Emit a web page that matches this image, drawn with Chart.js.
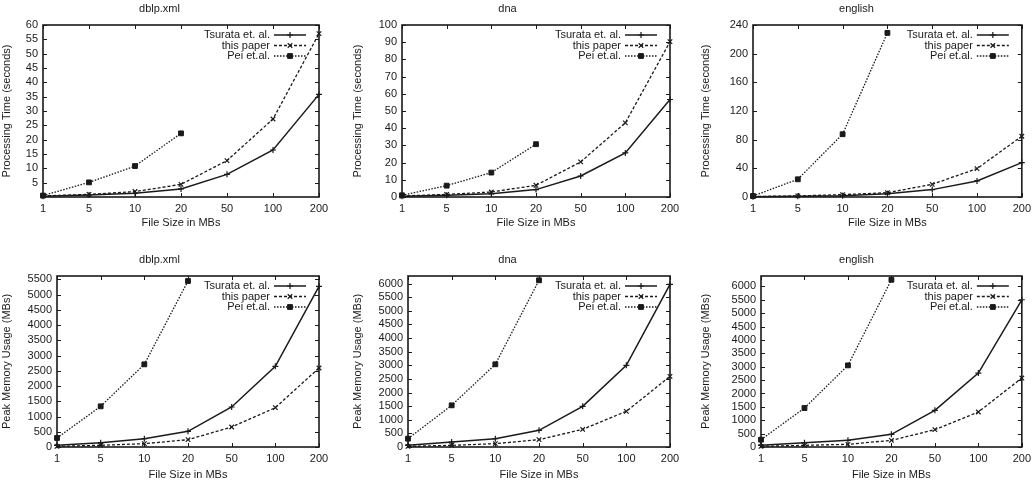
<!DOCTYPE html>
<html>
<head>
<meta charset="utf-8">
<script src="https://cdn.jsdelivr.net/npm/chart.js@4.4.0/dist/chart.umd.min.js"></script>
<style>
  body { margin: 0; background: #fff; }
  #wrap { position: relative; width: 1036px; height: 485px; background: #fff; }
  canvas { position: absolute; }
</style>
</head>
<body>
<div id="wrap">
  <canvas id="c1" width="345" height="242" style="left:0;top:0"></canvas>
  <canvas id="c2" width="345" height="242" style="left:345px;top:0"></canvas>
  <canvas id="c3" width="346" height="242" style="left:690px;top:0"></canvas>
  <canvas id="c4" width="345" height="234" style="left:0;top:251px"></canvas>
  <canvas id="c5" width="345" height="234" style="left:345px;top:251px"></canvas>
  <canvas id="c6" width="346" height="234" style="left:690px;top:251px"></canvas>
</div>
<script>
// x categories
const fileSizes = ['1', '5', '10', '20', '50', '100', '200'];
const seriesNames = ['Tsurata et. al.', 'this paper', 'Pei et.al.'];

// processing time (seconds)
const dblpTimeTsurata = [0.3, 0.7, 1.3, 2.8, 7.9, 16.4, 35.8];
const dblpTimeOurs = [0.4, 0.9, 1.9, 4.4, 12.7, 27.2, 57];
const dblpTimePei = [0.5, 5.1, 10.8, 22.2];
const dnaTimeTsurata = [0.4, 1, 1.9, 4.3, 12.2, 25.6, 56.7];
const dnaTimeOurs = [0.6, 1.5, 2.9, 6.8, 20.4, 43.1, 90.3];
const dnaTimePei = [1, 6.6, 14.2, 30.7];
const englishTimeTsurata = [0.5, 1, 1.9, 4.7, 10.3, 22.4, 48];
const englishTimeOurs = [0.7, 1.5, 3.3, 6, 17.7, 39.6, 84.8];
const englishTimePei = [1.4, 24.7, 87.6, 229];

// peak memory (MBs)
const dblpMemTsurata = [55, 142, 273, 514, 1312, 2646, 5270];
const dblpMemOurs = [22, 55, 109, 240, 656, 1290, 2592];
const dblpMemPei = [295, 1334, 2712, 5446];
const dnaMemTsurata = [61, 184, 306, 612, 1494, 3000, 5975];
const dnaMemOurs = [25, 61, 122, 269, 649, 1310, 2596];
const dnaMemPei = [306, 1530, 3037, 6122];
const englishMemTsurata = [62, 162, 249, 473, 1369, 2764, 5502];
const englishMemOurs = [25, 62, 100, 249, 647, 1307, 2577];
const englishMemPei = [274, 1456, 3050, 6249];

// y axis ranges
const timeMax = [60, 100, 240];
const timeStep = [5, 10, 40];
const memMax = [5610, 6280, 6390];
const memStep = 500;

const INK = '#1a1a1a';
const FONT = 'Liberation Sans, Arial, Helvetica, sans-serif';

// gnuplot-like frame with inward ticks on all four sides
const framePlugin = {
    id: 'frame',
    afterDatasetsDraw(chart) {
        const { ctx, chartArea: a, scales: { x, y } } = chart;
        ctx.save();
        ctx.strokeStyle = INK;
        ctx.lineWidth = 1;
        ctx.beginPath();
        x.ticks.forEach((t, i) => {
            const px = Math.round(x.getPixelForTick(i)) + 0.5;
            ctx.moveTo(px, a.bottom); ctx.lineTo(px, a.bottom - 4);
            ctx.moveTo(px, a.top); ctx.lineTo(px, a.top + 4);
        });
        y.ticks.forEach(t => {
            const py = Math.round(y.getPixelForValue(t.value)) + 0.5;
            ctx.moveTo(a.left, py); ctx.lineTo(a.left + 4, py);
            ctx.moveTo(a.right, py); ctx.lineTo(a.right - 4, py);
        });
        ctx.stroke();
        ctx.lineWidth = 1.6;
        ctx.strokeRect(a.left, a.top, a.right - a.left, a.bottom - a.top);
        ctx.restore();
    }
};

// key in the top right corner, text right aligned, sample to its right
const keyPlugin = {
    id: 'key',
    afterDraw(chart) {
        const { ctx, chartArea: a } = chart;
        ctx.save();
        ctx.font = '11px ' + FONT;
        ctx.textAlign = 'right';
        ctx.textBaseline = 'middle';
        chart.data.datasets.forEach((ds, i) => {
            const yy = a.top + 10 + i * 10.5;
            const x0 = a.right - 45, x1 = a.right - 13;
            ctx.fillStyle = INK;
            ctx.fillText(ds.label, x0 - 4, yy);
            ctx.strokeStyle = INK;
            ctx.lineWidth = ds.borderWidth;
            ctx.setLineDash(ds.borderDash || []);
            ctx.beginPath();
            ctx.moveTo(x0, yy); ctx.lineTo(x1, yy);
            ctx.stroke();
            ctx.setLineDash([]);
            ctx.lineWidth = ds.pointBorderWidth;
            ctx.fillStyle = INK;
            Chart.helpers.drawPoint(ctx, {
                pointStyle: ds.pointStyle, radius: ds.pointRadius, rotation: 0, borderWidth: ds.pointBorderWidth
            }, (x0 + x1) / 2, yy);
        });
        ctx.restore();
    }
};

function makeDatasets(tsurata, ours, pei) {
    const common = { borderColor: INK, backgroundColor: INK, pointBorderColor: INK, pointBackgroundColor: INK, tension: 0, clip: false, spanGaps: false };
    return [
        Object.assign({}, common, { label: seriesNames[0], data: tsurata, borderWidth: 1.5, pointStyle: 'cross', pointRadius: 3, pointBorderWidth: 1.2 }),
        Object.assign({}, common, { label: seriesNames[1], data: ours, borderWidth: 1.3, borderDash: [3, 2], pointStyle: 'crossRot', pointRadius: 3.2, pointBorderWidth: 1.2 }),
        Object.assign({}, common, { label: seriesNames[2], data: pei, borderWidth: 1.3, borderDash: [1.5, 1.5], pointStyle: 'rect', pointRadius: 3.4, pointBorderWidth: 1 })
    ];
}

function makePanel(id, title, yTitle, datasets, yMax, yStep, lay) {
    new Chart(document.getElementById(id), {
        type: 'line',
        data: { labels: fileSizes, datasets: datasets },
        plugins: [framePlugin, keyPlugin],
        options: {
            responsive: false,
            animation: false,
            events: [],
            layout: { padding: { left: 0, right: lay.padRight, top: 0, bottom: 0 } },
            plugins: {
                legend: { display: false },
                tooltip: { enabled: false },
                title: { display: true, text: title, color: INK, font: { family: FONT, size: 11, weight: 'normal' }, padding: { top: lay.titleTop, bottom: 25 - 13.2 - lay.titleTop } }
            },
            scales: {
                x: {
                    type: 'category',
                    offset: false,
                    grid: { display: false, drawTicks: false },
                    border: { display: false },
                    ticks: { color: INK, font: { family: FONT, size: 11 }, padding: 5, maxRotation: 0, autoSkip: false },
                    title: { display: true, text: 'File Size in MBs', color: INK, font: { family: FONT, size: 11 }, padding: { top: 0, bottom: lay.xTitleBottom } },
                    afterFit(s) { s.height = lay.xHeight; }
                },
                y: {
                    min: 0,
                    max: yMax,
                    grid: { display: false, drawTicks: false },
                    border: { display: false },
                    ticks: { stepSize: yStep, color: INK, font: { family: FONT, size: 11 }, padding: 5, autoSkip: false, callback: v => String(v) },
                    title: { display: true, text: yTitle, color: INK, font: { family: FONT, size: 11 }, padding: { top: lay.yTitleLeft, bottom: 0 } },
                    afterBuildTicks(s) {
                        const ticks = [];
                        for (let v = lay.hideZero ? yStep : 0; v <= yMax + 1e-9; v += yStep) ticks.push({ value: v });
                        s.ticks = ticks;
                    },
                    afterFit(s) { s.width = lay.yWidth; }
                }
            }
        }
    });
}

const TIME_LABEL = 'Processing Time (seconds)';
const MEM_LABEL = 'Peak Memory Usage (MBs)';

makePanel('c1', 'dblp.xml', TIME_LABEL, makeDatasets(dblpTimeTsurata, dblpTimeOurs, dblpTimePei), timeMax[0], timeStep[0],
    { yWidth: 43, padRight: 26, titleTop: 2, xHeight: 45, xTitleBottom: 12, yTitleLeft: 0, hideZero: true });
makePanel('c2', 'dna', TIME_LABEL, makeDatasets(dnaTimeTsurata, dnaTimeOurs, dnaTimePei), timeMax[1], timeStep[1],
    { yWidth: 57, padRight: 20, titleTop: 2, xHeight: 45, xTitleBottom: 12, yTitleLeft: 6 });
makePanel('c3', 'english', TIME_LABEL, makeDatasets(englishTimeTsurata, englishTimeOurs, englishTimePei), timeMax[2], timeStep[2],
    { yWidth: 63, padRight: 13, titleTop: 2, xHeight: 45, xTitleBottom: 12, yTitleLeft: 9 });
makePanel('c4', 'dblp.xml', MEM_LABEL, makeDatasets(dblpMemTsurata, dblpMemOurs, dblpMemPei), memMax[0], memStep,
    { yWidth: 57, padRight: 26, titleTop: 2, xHeight: 38, xTitleBottom: 3, yTitleLeft: 0 });
makePanel('c5', 'dna', MEM_LABEL, makeDatasets(dnaMemTsurata, dnaMemOurs, dnaMemPei), memMax[1], memStep,
    { yWidth: 63, padRight: 20, titleTop: 2, xHeight: 38, xTitleBottom: 3, yTitleLeft: 6 });
makePanel('c6', 'english', MEM_LABEL, makeDatasets(englishMemTsurata, englishMemOurs, englishMemPei), memMax[2], memStep,
    { yWidth: 71, padRight: 13, titleTop: 2, xHeight: 38, xTitleBottom: 3, yTitleLeft: 9 });
</script>
</body>
</html>
